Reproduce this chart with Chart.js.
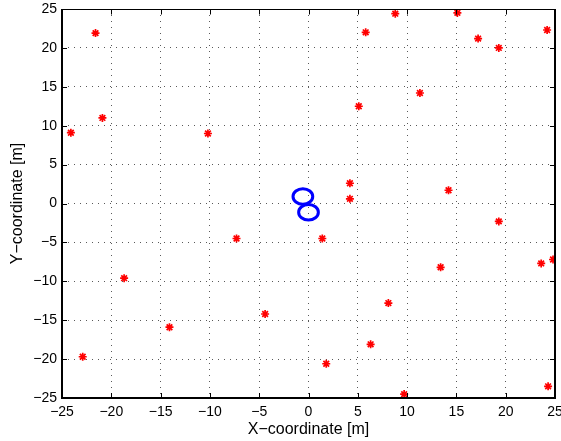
<!DOCTYPE html>
<html>
<head>
<meta charset="utf-8">
<script src="https://cdn.jsdelivr.net/npm/chart.js@4.4.1/dist/chart.umd.min.js"></script>
<style>
  html, body { margin: 0; padding: 0; background: #fff; }
  #wrap { width: 561px; height: 441px; }
</style>
</head>
<body>
<div id="wrap"><canvas id="plot" width="561" height="441"></canvas></div>
<script>
// Node positions [m]
const nodeX = [-21.6, -24.1, -20.9, -10.2, 8.8, 15.1, 5.8, 24.2, 17.2, 19.3,
               11.3, 5.1, 4.2, 4.2, 14.2, 19.3, -7.3, -18.7, -4.4, -14.1,
               -22.9, 1.4, 13.4, 23.6, 24.8, 8.1, 6.3, 1.8, 9.7, 24.3];
const nodeY = [21.9, 9.1, 11.0, 9.0, 24.4, 24.5, 22.0, 22.3, 21.2, 20.0,
               14.2, 12.5, 2.6, 0.6, 1.7, -2.3, -4.5, -9.6, -14.2, -15.9,
               -19.7, -4.5, -8.2, -7.7, -7.2, -12.8, -18.1, -20.6, -24.5, -23.5];

// Ring centres and radius [m]
const ringX = [-0.57, 0.0];
const ringY = [0.9, -1.13];
const ringR = [1.0, 1.0];

// Tick values shared by both axes
const axisTicks = [-25, -20, -15, -10, -5, 0, 5, 10, 15, 20, 25];

const fmtTick = v => (v < 0 ? '\u2212' + Math.abs(v) : String(v));

// Draws the rings (in data units), the closed box and inward tick marks
const frame = {
    id: 'frame',
    afterDatasetsDraw(chart) {
        const { ctx, chartArea: a, scales: { x, y } } = chart;
        ctx.save();
        ctx.beginPath();
        ctx.rect(a.left, a.top, a.right - a.left, a.bottom - a.top);
        ctx.clip();
        ctx.strokeStyle = '#0000ff';
        ctx.lineWidth = 3;
        ringX.forEach((cx, i) => {
            const px = x.getPixelForValue(cx);
            const py = y.getPixelForValue(ringY[i]);
            const rx = Math.abs(x.getPixelForValue(cx + ringR[i]) - px);
            const ry = Math.abs(y.getPixelForValue(ringY[i] + ringR[i]) - py);
            ctx.beginPath();
            ctx.ellipse(px, py, rx, ry, 0, 0, Math.PI * 2);
            ctx.stroke();
        });
        ctx.restore();
    },
    afterDraw(chart) {
        const { ctx, chartArea: a, scales: { x, y } } = chart;
        const L = Math.round(a.left), R = Math.round(a.right);
        const T = Math.round(a.top) + 0.5, B = Math.round(a.bottom);
        const len = 5;
        ctx.save();
        ctx.strokeStyle = '#000';

        // tick marks pointing into the plot
        ctx.lineWidth = 1;
        ctx.beginPath();
        axisTicks.forEach(v => {
            const px = Math.round(x.getPixelForValue(v)) + 0.5;
            ctx.moveTo(px, B); ctx.lineTo(px, B - len);
            ctx.moveTo(px, T); ctx.lineTo(px, T + len);
            const py = Math.round(y.getPixelForValue(v)) + 0.5;
            ctx.moveTo(L, py); ctx.lineTo(L + len, py);
            ctx.moveTo(R, py); ctx.lineTo(R - len, py);
        });
        ctx.stroke();

        // top edge thin, the other three a bit heavier
        ctx.beginPath();
        ctx.moveTo(L, T); ctx.lineTo(R, T);
        ctx.stroke();
        ctx.lineWidth = 2;
        ctx.beginPath();
        ctx.moveTo(L, T - 0.5); ctx.lineTo(L, B + 1);
        ctx.moveTo(L - 1, B); ctx.lineTo(R + 1, B);
        ctx.moveTo(R, T - 0.5); ctx.lineTo(R, B + 1);
        ctx.stroke();
        ctx.restore();
    }
};

Chart.defaults.font.family = '"Liberation Sans", Arial, Helvetica, sans-serif';
Chart.defaults.color = '#000';

const gridOpts = {
    color: 'rgba(0,0,0,0.65)',
    lineWidth: 1,
    drawTicks: false
};

new Chart(document.getElementById('plot'), {
    type: 'scatter',
    data: {
        datasets: [{
            label: 'nodes',
            data: nodeX.map((v, i) => ({ x: v, y: nodeY[i] })),
            pointStyle: 'star',
            pointRadius: 4,
            pointHoverRadius: 4,
            borderColor: '#ff0000',
            backgroundColor: '#ff0000',
            borderWidth: 1.7
        }]
    },
    options: {
        responsive: false,
        animation: false,
        events: [],
        layout: { padding: { top: 9, right: 6, left: 0, bottom: 0 } },
        plugins: { legend: { display: false }, tooltip: { enabled: false } },
        scales: {
            x: {
                type: 'linear',
                min: -25, max: 25,
                afterBuildTicks: s => { s.ticks = axisTicks.map(v => ({ value: v })); },
                afterFit: s => { s.height = 43; s.paddingLeft = 0; s.paddingRight = 0; },
                grid: gridOpts,
                border: { display: false, dash: [1, 5] },
                ticks: { font: { size: 14 }, padding: 6, maxRotation: 0, callback: fmtTick },
                title: { display: true, text: 'X\u2212coordinate [m]', font: { size: 16 }, padding: { top: 0, bottom: 2 } }
            },
            y: {
                type: 'linear',
                min: -25, max: 25,
                afterBuildTicks: s => { s.ticks = axisTicks.map(v => ({ value: v })); },
                afterFit: s => { s.width = 62; s.paddingTop = 0; s.paddingBottom = 0; },
                grid: gridOpts,
                border: { display: false, dash: [1, 5] },
                ticks: { font: { size: 14 }, padding: 5, callback: fmtTick },
                title: { display: true, text: 'Y\u2212coordinate [m]', font: { size: 16 }, padding: { top: 8, bottom: 0 } }
            }
        }
    },
    plugins: [frame]
});
</script>
</body>
</html>
